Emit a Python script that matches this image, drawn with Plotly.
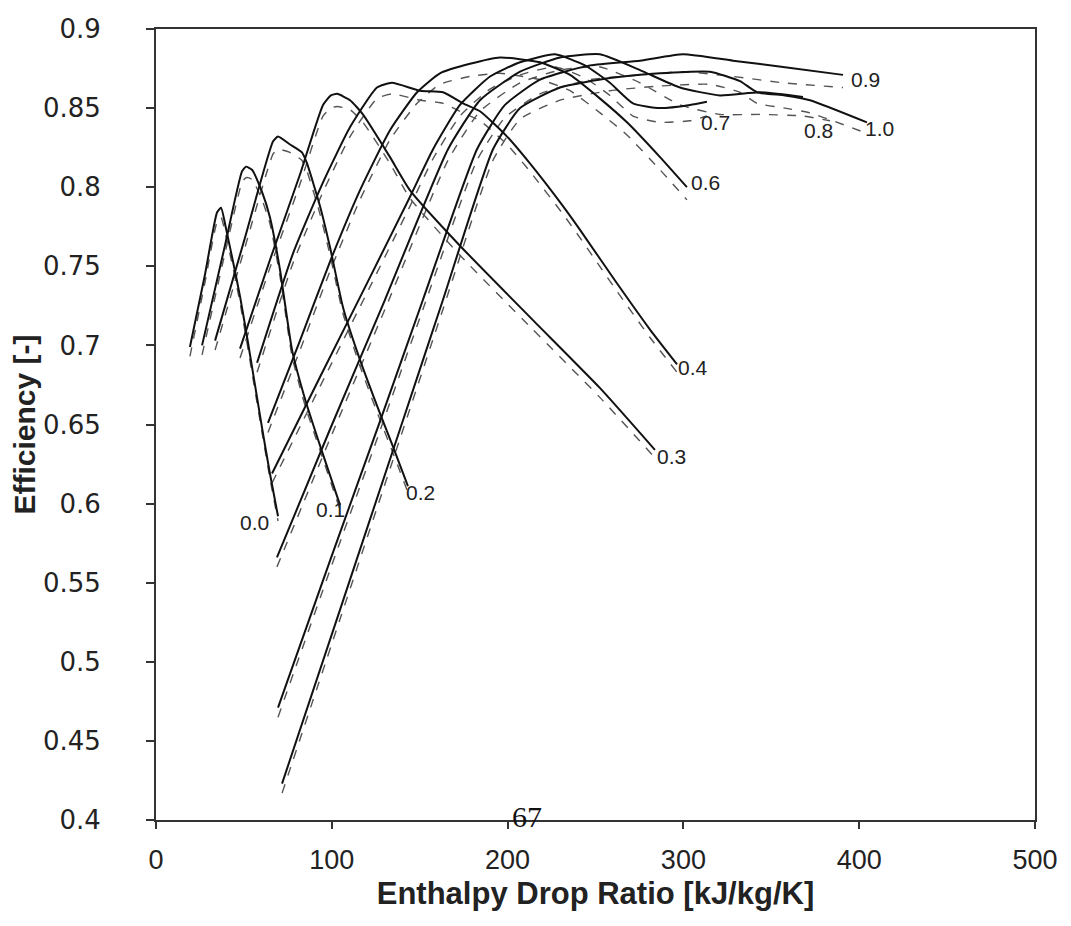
import plotly.graph_objects as go

# ---- data (x: enthalpy drop ratio, y: efficiency) ----
labels = ["0.0", "0.1", "0.2", "0.3", "0.4", "0.6", "0.7", "0.8", "0.9", "1.0"]

x_00 = [19.3, 27.9, 34.7, 37.0, 39.8, 43.8, 47.8, 52.3, 60.3, 64.8, 69.4]
y_00 = [0.699, 0.745, 0.784, 0.787, 0.774, 0.753, 0.731, 0.702, 0.648, 0.619, 0.592]
yd_00 = [0.693, 0.740, 0.778, 0.781, 0.769, 0.749, 0.727, 0.698, 0.645, 0.616, 0.589]

x_01 = [26.2, 39.2, 48.9, 51.2, 54.6, 60.3, 64.8, 70.5, 77.4, 84.8, 94.4, 104.7]
y_01 = [0.700, 0.763, 0.810, 0.813, 0.811, 0.797, 0.781, 0.748, 0.697, 0.666, 0.633, 0.599]
yd_01 = [0.694, 0.758, 0.803, 0.806, 0.805, 0.792, 0.777, 0.744, 0.693, 0.662, 0.630, 0.596]

x_02 = [33.6, 50.6, 66.6, 69.4, 76.2, 83.0, 85.9, 93.3, 99.0, 106.4, 116.0, 127.4, 134.8, 143.3]
y_02 = [0.703, 0.768, 0.829, 0.832, 0.827, 0.822, 0.815, 0.788, 0.762, 0.724, 0.691, 0.657, 0.636, 0.611]
yd_02 = [0.697, 0.762, 0.821, 0.824, 0.822, 0.817, 0.810, 0.783, 0.757, 0.720, 0.687, 0.653, 0.632, 0.607]

x_03 = [47.8, 64.8, 81.9, 95.0, 99.5, 103.0, 110.4, 117.7, 133.1, 144.5, 172.9, 214.4, 252.6, 283.8]
y_03 = [0.698, 0.754, 0.808, 0.852, 0.858, 0.859, 0.855, 0.846, 0.819, 0.798, 0.763, 0.716, 0.673, 0.634]
yd_03 = [0.692, 0.749, 0.802, 0.845, 0.850, 0.851, 0.849, 0.841, 0.815, 0.793, 0.757, 0.710, 0.667, 0.629]

x_04 = [57.5, 77.9, 95.0, 110.4, 125.7, 134.2, 150.2, 163.3, 174.6, 184.3, 199.7, 212.7, 231.5, 241.2, 261.1, 281.0, 296.4]
y_04 = [0.689, 0.758, 0.803, 0.838, 0.863, 0.866, 0.861, 0.860, 0.853, 0.848, 0.832, 0.815, 0.788, 0.773, 0.741, 0.710, 0.688]
yd_04 = [0.683, 0.752, 0.797, 0.832, 0.856, 0.859, 0.855, 0.853, 0.847, 0.842, 0.827, 0.810, 0.783, 0.768, 0.736, 0.705, 0.683]

x_06 = [63.7, 81.9, 99.0, 116.0, 133.1, 148.5, 161.5, 178.6, 195.7, 218.4, 235.5, 252.6, 267.9, 286.7, 302.0]
y_06 = [0.651, 0.703, 0.753, 0.798, 0.836, 0.860, 0.872, 0.878, 0.882, 0.879, 0.871, 0.856, 0.841, 0.819, 0.800]
yd_06 = [0.645, 0.697, 0.747, 0.792, 0.830, 0.853, 0.865, 0.870, 0.872, 0.868, 0.861, 0.847, 0.833, 0.811, 0.792]

x_07 = [66.0, 93.3, 121.7, 144.5, 157.6, 172.9, 190.0, 207.1, 227.0, 244.0, 258.2, 271.3, 286.7, 303.8, 313.4]
y_07 = [0.619, 0.680, 0.743, 0.794, 0.824, 0.852, 0.870, 0.879, 0.884, 0.877, 0.866, 0.853, 0.850, 0.852, 0.854]
yd_07 = [0.613, 0.674, 0.737, 0.788, 0.818, 0.845, 0.862, 0.871, 0.876, 0.869, 0.858, 0.845, 0.841, 0.842, 0.845]

x_08 = [68.8, 99.0, 130.3, 166.1, 184.3, 207.1, 229.8, 252.6, 275.3, 298.1, 320.8, 343.6, 368.0]
y_08 = [0.566, 0.647, 0.729, 0.824, 0.855, 0.873, 0.882, 0.884, 0.874, 0.863, 0.858, 0.860, 0.857]
xd_08 = [68.8, 99.0, 130.3, 166.1, 184.3, 207.1, 229.8, 252.6, 275.3, 298.1, 320.8, 343.6, 368.0, 383.4]
yd_08 = [0.560, 0.641, 0.723, 0.817, 0.848, 0.866, 0.874, 0.876, 0.866, 0.852, 0.846, 0.846, 0.845, 0.842]

x_09 = [69.4, 99.0, 127.4, 151.9, 182.6, 198.5, 218.4, 246.9, 275.3, 299.8, 328.2, 356.7, 390.8]
y_09 = [0.471, 0.564, 0.652, 0.729, 0.824, 0.852, 0.868, 0.877, 0.880, 0.884, 0.880, 0.876, 0.871]
yd_09 = [0.465, 0.558, 0.646, 0.723, 0.817, 0.844, 0.859, 0.868, 0.871, 0.873, 0.870, 0.866, 0.863]

x_10 = [71.7, 104.7, 138.8, 163.3, 191.7, 207.1, 229.8, 258.2, 286.7, 315.1, 332.2, 341.9, 357.8, 372.0, 404.4]
y_10 = [0.423, 0.533, 0.647, 0.729, 0.824, 0.850, 0.863, 0.869, 0.872, 0.873, 0.867, 0.860, 0.858, 0.855, 0.841]
yd_10 = [0.417, 0.527, 0.641, 0.723, 0.817, 0.843, 0.855, 0.861, 0.864, 0.865, 0.860, 0.853, 0.850, 0.847, 0.834]

# label positions (data coords)
label_x = [56.3, 99.0, 150.2, 293.5, 305.5, 312.3, 318.5, 376.6, 403.3, 411.8]
label_y = [0.588, 0.596, 0.607, 0.630, 0.686, 0.803, 0.841, 0.836, 0.868, 0.837]

x_ticks = [0, 100, 200, 300, 400, 500]
y_ticks = [0.4, 0.45, 0.5, 0.55, 0.6, 0.65, 0.7, 0.75, 0.8, 0.85, 0.9]
y_tick_text = ["0.4", "0.45", "0.5", "0.55", "0.6", "0.65", "0.7", "0.75", "0.8", "0.85", "0.9"]

solid = [(x_00, y_00), (x_01, y_01), (x_02, y_02), (x_03, y_03), (x_04, y_04),
         (x_06, y_06), (x_07, y_07), (x_08, y_08), (x_09, y_09), (x_10, y_10)]
dashed = [(x_00, yd_00), (x_01, yd_01), (x_02, yd_02), (x_03, yd_03), (x_04, yd_04),
          (x_06, yd_06), (x_07, yd_07), (xd_08, yd_08), (x_09, yd_09), (x_10, yd_10)]

fig = go.Figure()
for lab, (xs, ys) in zip(labels, dashed):
    fig.add_trace(go.Scatter(x=xs, y=ys, mode="lines", name=lab + " (dashed)",
                             line=dict(color="#555555", width=1.4, dash="dash",
                                       shape="spline", smoothing=0.5),
                             showlegend=False, hoverinfo="skip"))
for lab, (xs, ys) in zip(labels, solid):
    fig.add_trace(go.Scatter(x=xs, y=ys, mode="lines", name=lab,
                             line=dict(color="#111111", width=2,
                                       shape="spline", smoothing=0.5),
                             showlegend=False))

for lab, lx, ly in zip(labels, label_x, label_y):
    fig.add_annotation(x=lx, y=ly, text=lab, showarrow=False,
                       font=dict(family="Liberation Sans, Arial, sans-serif", size=21, color="#222"),
                       xanchor="center", yanchor="middle")

# page number overlapping the axis (from the scanned page)
fig.add_annotation(xref="paper", yref="paper", x=(527 - 156) / (1035 - 156), y=0.004,
                   text="67", showarrow=False,
                   font=dict(family="Liberation Serif, DejaVu Serif, serif", size=30, color="#111"),
                   xanchor="center", yanchor="middle")

fig.update_layout(
    width=1071, height=926,
    margin=dict(l=148, r=44, t=21, b=114, autoexpand=False),
    paper_bgcolor="white", plot_bgcolor="white",
    showlegend=False,
    xaxis=dict(range=[0, 500], tickvals=x_ticks, ticks="outside", ticklen=7, tickwidth=1.5,
               tickcolor="#333", showline=True, linecolor="#333", linewidth=2, mirror=True,
               showgrid=False, zeroline=False, automargin=False,
               tickfont=dict(family="Liberation Sans, Arial, sans-serif", size=27, color="#222"),
               ticklabelstandoff=8,
               title=dict(text="<b>Enthalpy Drop Ratio [kJ/kg/K]</b>",
                          font=dict(family="Liberation Sans, Arial, sans-serif", size=31, color="#222"),
                          standoff=8)),
    yaxis=dict(range=[0.4, 0.9], tickvals=y_ticks, ticktext=y_tick_text, ticks="outside", ticklen=8,
               tickwidth=1.5, tickcolor="#333", showline=True, linecolor="#333", linewidth=2, mirror=True,
               showgrid=False, zeroline=False, automargin=False,
               tickfont=dict(family="DejaVu Sans, Verdana, sans-serif", size=26, color="#222"),
               ticklabelstandoff=40,
               title=dict(text="<b>Efficiency [-]</b>",
                          font=dict(family="Liberation Sans, Arial, sans-serif", size=30, color="#222"),
                          standoff=4)),
)

fig.write_html("out.html")
